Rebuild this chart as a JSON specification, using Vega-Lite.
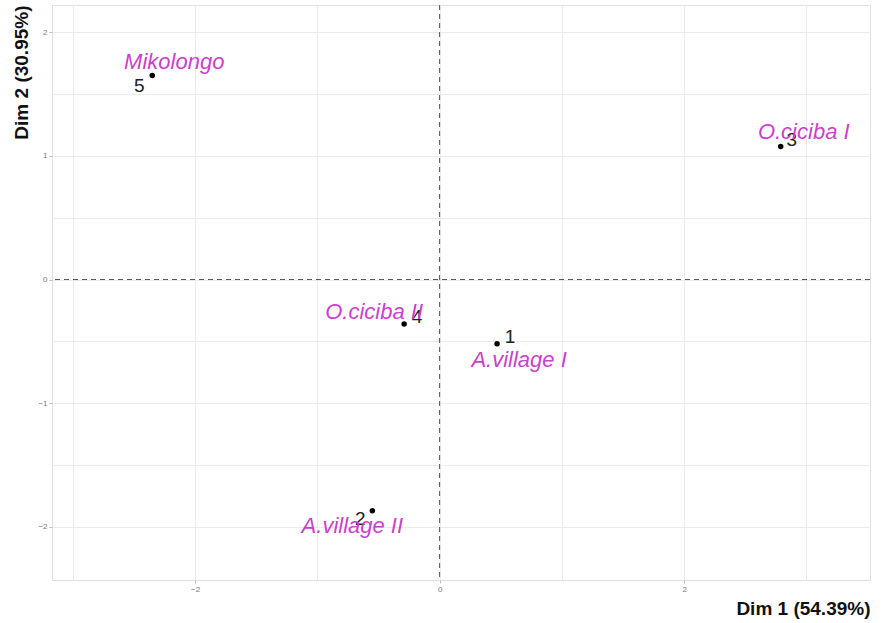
{
  "$schema": "https://vega.github.io/schema/vega-lite/v6.json",
  "width": 818,
  "height": 575,
  "autosize": {"type": "none"},
  "padding": {"left": 52, "top": 5, "right": 13, "bottom": 43},
  "background": "white",
  "config": {
    "view": {"stroke": "#E0E0E0", "strokeWidth": 1},
    "font": "Liberation Sans"
  },
  "data": {
    "values": [
      {"id": "1", "site": "A.village I", "dim1": 0.47, "dim2": -0.52},
      {"id": "2", "site": "A.village II", "dim1": -0.55, "dim2": -1.87},
      {"id": "3", "site": "O.ciciba I", "dim1": 2.79, "dim2": 1.075},
      {"id": "4", "site": "O.ciciba II", "dim1": -0.29, "dim2": -0.36},
      {"id": "5", "site": "Mikolongo", "dim1": -2.35, "dim2": 1.65}
    ]
  },
  "encoding": {
    "x": {
      "field": "dim1", "type": "quantitative",
      "scale": {"domain": [-3.17, 3.52], "nice": false, "zero": false},
      "axis": {
        "title": "Dim 1 (54.39%)", "titleAnchor": "end", "titleFontSize": 19, "titleFontWeight": "bold",
        "titleColor": "#111", "titlePadding": 6,
        "values": [-3, -2, -1, 0, 1, 2, 3],
        "labelExpr": "datum.value % 2 === 0 ? format(datum.value, 'd') : ''",
        "labelFontSize": 8, "labelColor": "#777", "domain": false,
        "tickColor": {"condition": {"test": "datum.value % 2 !== 0", "value": "transparent"}, "value": "#BBBBBB"},
        "tickSize": 3,
        "grid": true, "gridColor": "#EBEBEB", "gridWidth": 1
      }
    },
    "y": {
      "field": "dim2", "type": "quantitative",
      "scale": {"domain": [-2.43, 2.22], "nice": false, "zero": false},
      "axis": {
        "title": "Dim 2 (30.95%)", "titleAnchor": "end", "titleFontSize": 19, "titleFontWeight": "bold",
        "titleColor": "#111", "titlePadding": 6,
        "values": [-2, -1.5, -1, -0.5, 0, 0.5, 1, 1.5, 2],
        "labelExpr": "datum.value % 1 === 0 ? format(datum.value, 'd') : ''",
        "labelFontSize": 8, "labelColor": "#777", "domain": false,
        "tickColor": {"condition": {"test": "datum.value % 1 !== 0", "value": "transparent"}, "value": "#BBBBBB"},
        "tickSize": 3,
        "grid": true, "gridColor": "#EBEBEB", "gridWidth": 1
      }
    }
  },
  "layer": [
    {
      "data": {"values": [{"v": 0}]},
      "mark": {"type": "rule", "color": "#555", "strokeDash": [5, 4], "strokeWidth": 1},
      "encoding": {"x": {"field": "v", "type": "quantitative"}, "y": null}
    },
    {
      "data": {"values": [{"v": 0}]},
      "mark": {"type": "rule", "color": "#555", "strokeDash": [5, 4], "strokeWidth": 1},
      "encoding": {"y": {"field": "v", "type": "quantitative"}, "x": null}
    },
    {
      "mark": {"type": "point", "filled": true, "color": "black", "opacity": 1, "size": 30}
    },
    {
      "transform": [{"filter": "datum.id === '5'"}],
      "mark": {"type": "text", "fontSize": 19, "color": "#222", "dx": -13, "dy": 11},
      "encoding": {"text": {"field": "id"}}
    },
    {
      "transform": [{"filter": "datum.id === '1' || datum.id === '4'"}],
      "mark": {"type": "text", "fontSize": 19, "color": "#222", "dx": 13, "dy": -7},
      "encoding": {"text": {"field": "id"}}
    },
    {
      "transform": [{"filter": "datum.id === '3'"}],
      "mark": {"type": "text", "fontSize": 19, "color": "#222", "dx": 11, "dy": -7},
      "encoding": {"text": {"field": "id"}}
    },
    {
      "transform": [{"filter": "datum.id === '2'"}],
      "mark": {"type": "text", "fontSize": 19, "color": "#222", "dx": -12, "dy": 8},
      "encoding": {"text": {"field": "id"}}
    },
    {
      "transform": [{"filter": "datum.id === '5'"}],
      "mark": {"type": "text", "fontSize": 22, "fontStyle": "italic", "color": "#CC3FCC", "dx": 22, "dy": -13},
      "encoding": {"text": {"field": "site"}}
    },
    {
      "transform": [{"filter": "datum.id === '3'"}],
      "mark": {"type": "text", "fontSize": 22, "fontStyle": "italic", "color": "#CC3FCC", "dx": 23, "dy": -15},
      "encoding": {"text": {"field": "site"}}
    },
    {
      "transform": [{"filter": "datum.id === '4'"}],
      "mark": {"type": "text", "fontSize": 22, "fontStyle": "italic", "color": "#CC3FCC", "dx": -30, "dy": -12},
      "encoding": {"text": {"field": "site"}}
    },
    {
      "transform": [{"filter": "datum.id === '1'"}],
      "mark": {"type": "text", "fontSize": 22, "fontStyle": "italic", "color": "#CC3FCC", "dx": 22, "dy": 16},
      "encoding": {"text": {"field": "site"}}
    },
    {
      "transform": [{"filter": "datum.id === '2'"}],
      "mark": {"type": "text", "fontSize": 22, "fontStyle": "italic", "color": "#CC3FCC", "dx": -20, "dy": 15},
      "encoding": {"text": {"field": "site"}}
    }
  ]
}
